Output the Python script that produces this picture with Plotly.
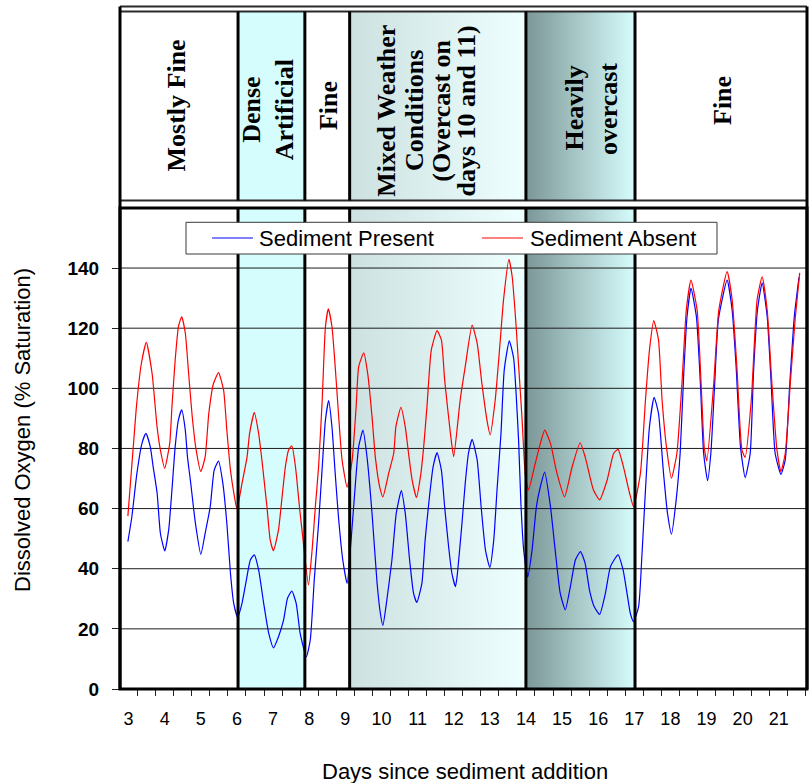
import plotly.graph_objects as go

# ---------------- data ----------------
# Dissolved oxygen (% saturation) vs days since sediment addition
present_day = [2.98, 3.09, 3.23, 3.37, 3.48, 3.60, 3.68, 3.79, 3.88, 4.00,
               4.11, 4.20, 4.29, 4.38, 4.47, 4.57, 4.63, 4.71, 4.85, 5.00,
               5.12, 5.26, 5.37, 5.49, 5.61, 5.72, 5.82, 5.91, 6.02,
               6.14, 6.26, 6.37, 6.48, 6.60, 6.74, 6.88, 7.01,
               7.15, 7.29, 7.40, 7.52, 7.64, 7.75, 7.92,
               8.03, 8.14, 8.26, 8.35, 8.45, 8.54, 8.63, 8.72, 8.81, 8.93, 9.05,
               9.16, 9.28, 9.37, 9.49, 9.60, 9.74, 9.88, 9.97, 10.04,
               10.15, 10.29, 10.41, 10.55, 10.66, 10.78, 10.89, 10.98,
               11.12, 11.21, 11.33, 11.43, 11.54, 11.66, 11.75, 11.86, 11.95, 12.05,
               12.10, 12.23, 12.32, 12.41, 12.51, 12.65, 12.76, 12.88, 13.00,
               13.11, 13.20, 13.31, 13.40, 13.54, 13.66, 13.73, 13.80, 13.86, 13.94, 14.05,
               14.17, 14.29, 14.40, 14.52, 14.68, 14.81, 14.95, 15.09,
               15.23, 15.37, 15.51, 15.64, 15.76, 15.89, 16.04,
               16.20, 16.34, 16.55, 16.69, 16.80, 16.89, 16.98,
               17.12, 17.21, 17.31, 17.42, 17.55, 17.67, 17.81, 17.92, 18.03,
               18.16, 18.27, 18.37, 18.46, 18.57, 18.72, 18.83, 18.92, 19.03,
               19.12, 19.22, 19.33, 19.57, 19.71, 19.82, 19.94, 20.07,
               20.21, 20.30, 20.41, 20.54, 20.68, 20.79, 20.90, 21.06,
               21.18, 21.30, 21.43, 21.56]
present_do = [49.0, 57.3, 71.7, 81.7, 85.0, 80.6, 73.9, 65.1, 51.8, 45.9,
              52.9, 66.2, 80.6, 89.5, 92.8, 86.1, 77.2, 69.5, 55.1, 44.8,
              51.8, 60.6, 72.8, 75.8, 68.4, 55.1, 38.5, 28.5, 23.8,
              28.5, 36.2, 42.9, 44.6, 39.6, 28.5, 18.5, 13.7,
              17.4, 22.9, 30.2, 32.6, 28.5, 18.5, 10.7,
              16.3, 36.2, 55.1, 71.7, 89.5, 95.9, 87.2, 71.7, 57.3, 42.9, 35.1,
              49.6, 68.4, 80.6, 86.1, 77.2, 58.4, 35.1, 25.2, 21.1,
              29.6, 42.9, 58.4, 66.0, 58.4, 42.9, 31.8, 28.8,
              35.1, 49.6, 64.0, 73.9, 78.6, 72.8, 60.6, 47.3, 38.5, 34.0,
              38.0, 55.1, 68.4, 78.4, 83.0, 76.2, 60.6, 46.2, 40.4,
              49.6, 66.2, 85.0, 106.1, 115.8, 110.0, 98.0, 82.0, 62.0, 46.0, 37.3,
              46.2, 60.6, 67.3, 72.1, 60.6, 46.2, 31.8, 26.3,
              34.0, 42.9, 45.7, 41.8, 32.9, 27.4, 24.8,
              31.8, 40.7, 44.6, 39.6, 31.8, 25.2, 22.4,
              27.4, 44.0, 66.2, 87.2, 97.0, 91.7, 71.7, 58.4, 51.5,
              62.9, 78.4, 105.0, 123.8, 133.3, 123.8, 101.7, 78.4, 69.3,
              78.4, 100.0, 123.0, 136.0, 126.0, 107.2, 80.6, 70.3,
              78.4, 105.0, 126.0, 135.1, 123.8, 101.7, 78.4, 71.4,
              76.2, 100.5, 123.8, 136.9]

absent_day = [2.98, 3.21, 3.35, 3.49, 3.65, 3.79, 3.88, 4.00,
              4.14, 4.20, 4.29, 4.38, 4.47, 4.57, 4.66, 4.76, 4.87, 5.00,
              5.12, 5.22, 5.35, 5.49, 5.63, 5.72, 5.82, 5.93, 6.00,
              6.14, 6.28, 6.35, 6.48, 6.60, 6.69, 6.83, 6.92, 7.01,
              7.15, 7.25, 7.34, 7.43, 7.52, 7.62, 7.73, 7.83, 7.98,
              8.08, 8.17, 8.26, 8.36, 8.45, 8.53, 8.63, 8.72, 8.81, 8.91, 9.05,
              9.19, 9.30, 9.37, 9.51, 9.62, 9.74, 9.83, 9.95, 10.04,
              10.20, 10.34, 10.40, 10.54, 10.66, 10.75, 10.85, 10.97,
              11.08, 11.17, 11.26, 11.38, 11.54, 11.66, 11.75, 11.91, 12.00,
              12.18, 12.32, 12.51, 12.65, 12.78, 12.92, 13.01,
              13.15, 13.29, 13.38, 13.53, 13.62, 13.73, 13.80, 13.89, 13.98, 14.07,
              14.26, 14.40, 14.52, 14.68, 14.86, 15.07,
              15.28, 15.50, 15.64, 15.87, 16.04,
              16.25, 16.43, 16.55, 16.70, 16.87, 16.98,
              17.17, 17.31, 17.42, 17.54, 17.67, 17.77, 17.89, 18.03,
              18.18, 18.32, 18.44, 18.57, 18.74, 18.85, 18.94, 19.01,
              19.20, 19.34, 19.57, 19.71, 19.84, 19.98, 20.07,
              20.24, 20.40, 20.54, 20.68, 20.81, 20.95, 21.06,
              21.18, 21.32, 21.46, 21.58]
absent_do = [57.5, 93.0, 108.0, 115.3, 105.0, 87.0, 79.5, 73.4,
             81.8, 93.9, 109.4, 120.5, 123.8, 118.4, 105.2, 90.8, 79.5, 72.3,
             77.2, 91.6, 101.6, 105.2, 99.4, 86.1, 72.8, 64.0, 59.9,
             68.4, 77.2, 85.0, 91.9, 85.0, 76.2, 60.6, 49.6, 46.0,
             52.9, 64.0, 73.9, 79.5, 80.9, 73.9, 60.6, 49.6, 34.6,
             46.2, 60.6, 73.9, 96.1, 120.5, 126.4, 120.5, 107.2, 91.7, 76.2, 67.1,
             76.2, 93.9, 107.2, 111.8, 104.9, 90.5, 77.2, 67.3, 63.9,
             71.7, 78.4, 87.2, 93.7, 87.2, 78.4, 69.5, 63.7,
             70.6, 80.6, 93.9, 112.7, 119.2, 116.1, 102.8, 85.0, 77.3,
             96.1, 107.2, 121.0, 115.0, 101.7, 89.5, 84.5,
             96.1, 116.0, 129.4, 142.9, 137.1, 120.5, 107.2, 90.5, 71.7, 66.2,
             75.1, 81.7, 86.1, 81.7, 71.7, 63.9,
             73.9, 81.9, 77.2, 66.2, 62.9,
             69.5, 78.4, 79.7, 73.9, 65.1, 60.6,
             71.7, 96.1, 112.7, 122.5, 116.1, 96.1, 80.6, 70.1,
             78.4, 101.7, 126.0, 136.0, 126.0, 101.7, 80.0, 75.9,
             101.7, 126.0, 138.8, 129.4, 107.2, 79.5, 77.0,
             96.1, 129.4, 137.1, 126.0, 101.7, 79.5, 72.3,
             78.4, 101.7, 123.8, 138.4]

day_ticks = list(range(3, 22))
do_ticks = [0, 20, 40, 60, 80, 100, 120, 140]

# weather periods (days) and their captions
period_edges = [6.03, 7.88, 9.12, 14.0, 17.02]
period_text = [
    ["Mostly Fine"],
    ["Dense", "Artificial"],
    ["Fine"],
    ["Mixed Weather", "Conditions", "(Overcast on", "days 10 and 11)"],
    ["Heavily", "overcast"],
    ["Fine"],
]

# ---------------- layout constants ----------------
W, H = 812, 783
M_L, M_R, M_T, M_B = 120, 5, 5, 94
PLOT_W = W - M_L - M_R
PLOT_H = H - M_T - M_B
X_MIN, X_MAX = 2.762, 21.782
Y_MAX = 160
SANS = "Liberation Sans, Arial, sans-serif"
SERIF = "Liberation Serif, Times New Roman, serif"


def py(pix):
    """pixel row -> paper y"""
    return (H - M_B - pix) / PLOT_H


def px(pix):
    """pixel column -> paper x"""
    return (pix - M_L) / PLOT_W


MAIN_TOP = py(207.9)
TOP_LO, TOP_HI = py(200.5), py(11.5)
OUTER = py(6.5)

# fill style of each period (None = plain white)
period_fill = [
    None,
    dict(fillcolor="#D5FDFD"),
    None,
    dict(fillgradient=dict(type="horizontal",
                           colorscale=[[0, "#CDE1E1"], [1, "#EEFFFF"]])),
    dict(fillgradient=dict(type="horizontal",
                           colorscale=[[0, "#7B9696"], [0.5, "#AACACA"], [1, "#D6FCFC"]])),
    None,
]
# caption placement: pixel column of each caption line, pixel row of caption centre
label_cols = [[176.7], [251.3, 284.7], [328.3], [386.7, 415.0, 441.7, 466.5], [574.0, 608.4], [722.0]]
label_rows = [105.8, 109.5, 105.8, 111.0, 108.5, 101.0]

fig = go.Figure()

bounds = [X_MIN] + period_edges + [X_MAX]
for i, style in enumerate(period_fill):
    if style is None:
        continue
    x0, x1 = bounds[i], bounds[i + 1]
    for yax, top in (("y", Y_MAX), ("y2", 1)):
        fig.add_trace(go.Scatter(
            x=[x0, x1, x1, x0, x0], y=[0, 0, top, top, 0], yaxis=yax,
            mode="none", fill="toself", hoverinfo="skip", showlegend=False,
            **style))

# horizontal gridlines
gx, gy = [], []
for v in do_ticks[1:]:
    gx += [X_MIN, X_MAX, None]
    gy += [v, v, None]
fig.add_trace(go.Scatter(x=gx, y=gy, mode="lines", line=dict(color="#1c1c1c", width=1),
                         hoverinfo="skip", showlegend=False))

fig.add_trace(go.Scatter(x=present_day, y=present_do, mode="lines", name="Sediment Present",
                         line=dict(color="#0000FF", width=1.2, shape="spline", smoothing=0.5),
                         showlegend=False))
fig.add_trace(go.Scatter(x=absent_day, y=absent_do, mode="lines", name="Sediment Absent",
                         line=dict(color="#FF0000", width=1.2, shape="spline", smoothing=0.5),
                         showlegend=False))

shapes = []
# outer frame lines
shapes.append(dict(type="rect", xref="paper", yref="paper", x0=0, x1=1, y0=0, y1=MAIN_TOP,
                   line=dict(color="black", width=3), layer="above"))
shapes.append(dict(type="rect", xref="paper", yref="paper", x0=0, x1=1, y0=TOP_LO, y1=TOP_HI,
                   line=dict(color="#2a2a2a", width=2), layer="above"))
shapes.append(dict(type="line", xref="paper", yref="paper", x0=0, x1=1, y0=OUTER, y1=OUTER,
                   line=dict(color="#2a2a2a", width=2), layer="above"))
for xe in (0, 1):
    shapes.append(dict(type="line", xref="paper", yref="paper", x0=xe, x1=xe, y0=0, y1=OUTER,
                       line=dict(color="black", width=3), layer="above"))
# period boundaries in both panels
for e in period_edges:
    for y0, y1 in ((0, MAIN_TOP), (TOP_LO, TOP_HI)):
        shapes.append(dict(type="line", xref="x", yref="paper", x0=e, x1=e, y0=y0, y1=y1,
                           line=dict(color="black", width=3), layer="above"))

# legend box
shapes.append(dict(type="rect", xref="paper", yref="paper", x0=px(186), x1=px(717),
                   y0=py(254), y1=py(222.3), fillcolor="white",
                   line=dict(color="#3a3a3a", width=1), layer="above"))
leg_y = py(238)
legend_items = [("Sediment Present", "#0000FF", 212, 253, 257),
                ("Sediment Absent", "#FF0000", 482, 523, 528)]
annotations = []
for name, col, l0, l1, tx in legend_items:
    shapes.append(dict(type="line", xref="paper", yref="paper", x0=px(l0), x1=px(l1),
                       y0=leg_y, y1=leg_y, line=dict(color=col, width=1.2), layer="above"))
    annotations.append(dict(xref="paper", yref="paper", x=px(tx), y=leg_y, text=name,
                            xanchor="left", yanchor="middle", showarrow=False,
                            font=dict(family=SANS, size=22, color="black")))

# period captions (top panel)
for lines, cols, row in zip(period_text, label_cols, label_rows):
    for txt, col in zip(lines, cols):
        annotations.append(dict(xref="paper", yref="paper", x=px(col), y=py(row), text=txt,
                                textangle=-90, xanchor="center", yanchor="middle",
                                showarrow=False,
                                font=dict(family=SERIF, size=26, color="black", weight="bold")))

# axis titles
annotations.append(dict(xref="paper", yref="paper", x=px(464.5), y=py(771),
                        text="Days since sediment addition", showarrow=False,
                        xanchor="center", yanchor="middle",
                        font=dict(family=SANS, size=22, color="black")))
annotations.append(dict(xref="paper", yref="paper", x=px(22), y=py(430),
                        text="Dissolved Oxygen (% Saturation)", showarrow=False, textangle=-90,
                        xanchor="center", yanchor="middle",
                        font=dict(family=SANS, size=22, color="black")))

fig.update_layout(
    width=W, height=H,
    margin=dict(l=M_L, r=M_R, t=M_T, b=M_B, pad=0),
    paper_bgcolor="white", plot_bgcolor="white",
    showlegend=False,
    xaxis=dict(range=[X_MIN, X_MAX], domain=[0, 1], anchor="y",
               tickmode="array", tickvals=day_ticks, ticktext=[str(d) for d in day_ticks],
               ticks="", showgrid=False, zeroline=False, showline=False,
               tickfont=dict(family=SANS, size=18, color="black"),
               ticklabelstandoff=17,
               minor=dict(ticks="outside", ticklen=6, tickwidth=1, tickcolor="#222",
                          tickmode="linear", tick0=2.75, dtick=0.5, showgrid=False)),
    yaxis=dict(range=[0, Y_MAX], domain=[0, MAIN_TOP], anchor="x",
               tickmode="array", tickvals=do_ticks,
               ticks="outside", ticklen=7, tickwidth=1, tickcolor="#222",
               showgrid=False, zeroline=False, showline=False,
               tickfont=dict(family=SANS, size=19, color="black", weight="bold"),
               ticklabelstandoff=9),
    yaxis2=dict(range=[0, 1], domain=[TOP_LO, TOP_HI], anchor="x", visible=False),
    shapes=shapes,
    annotations=annotations,
)

fig.write_html("out.html")
